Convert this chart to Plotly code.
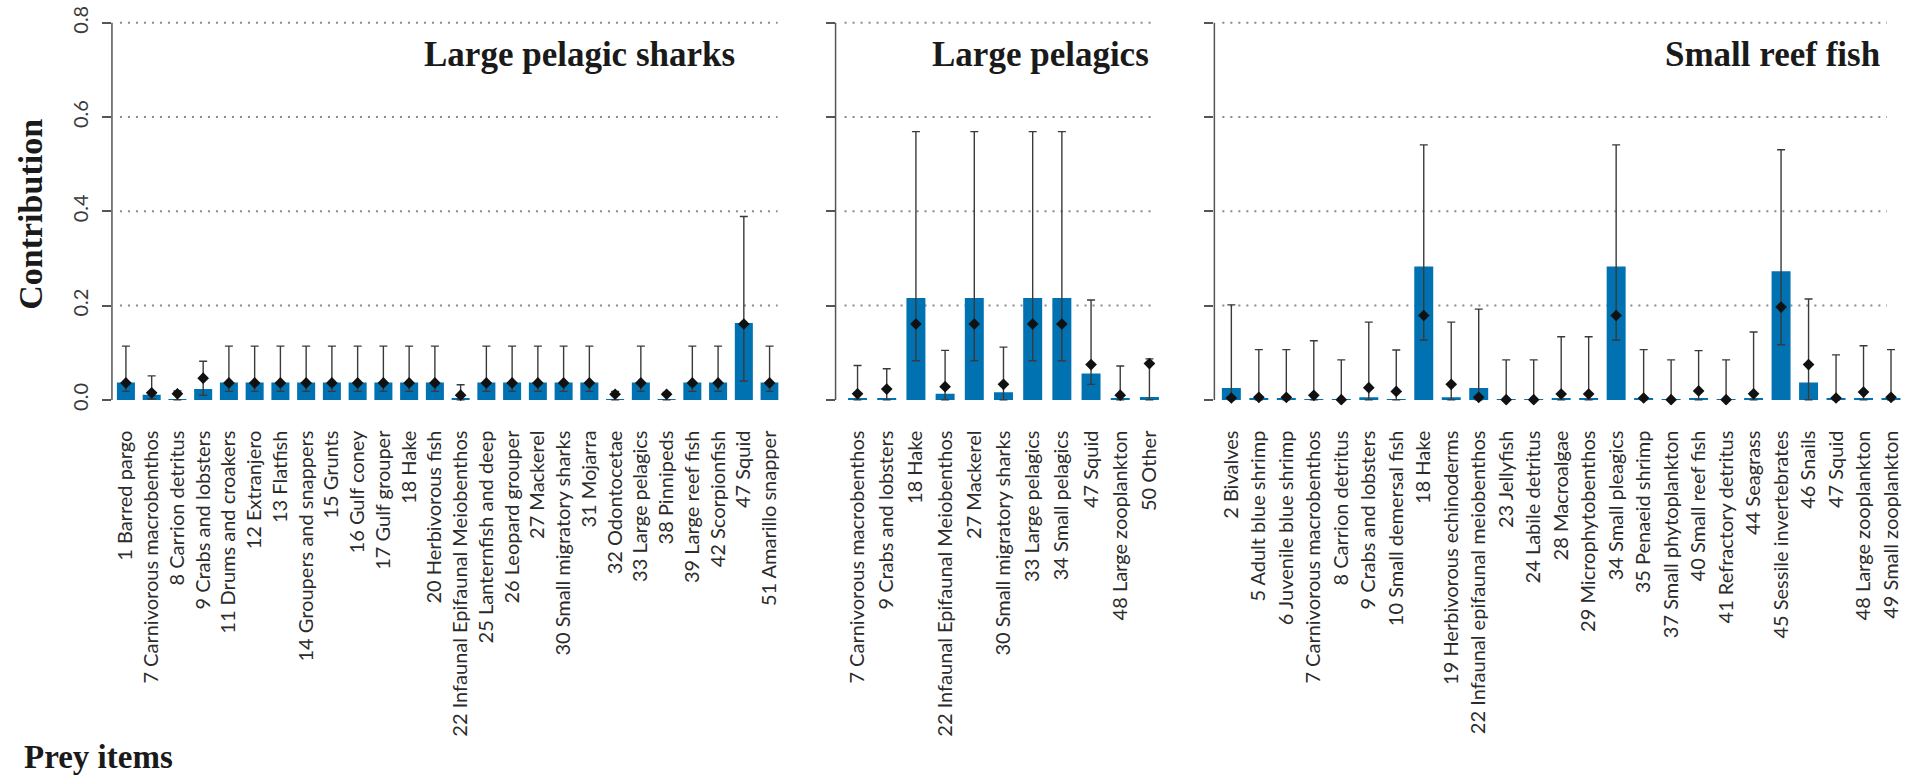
import plotly.graph_objects as go

# ---- Large pelagic sharks: diet contributions ----
sharks_labels = [
    "1 Barred pargo", "7 Carnivorous macrobenthos", "8 Carrion detritus",
    "9 Crabs and lobsters", "11 Drums and croakers", "12 Extranjero",
    "13 Flatfish", "14 Groupers and snappers", "15 Grunts", "16 Gulf coney",
    "17 Gulf grouper", "18 Hake", "20 Herbivorous fish",
    "22 Infaunal Epifaunal Meiobenthos", "25 Lanternfish and deep",
    "26 Leopard grouper", "27 Mackerel", "30 Small migratory sharks",
    "31 Mojarra", "32 Odontocetae", "33 Large pelagics", "38 Pinnipeds",
    "39 Large reef fish", "42 Scorpionfish", "47 Squid", "51 Amarillo snapper",
]
sharks_bar = [0.037, 0.011, 0.001, 0.023, 0.037, 0.037, 0.037, 0.037, 0.037, 0.037,
              0.037, 0.037, 0.037, 0.004, 0.037, 0.037, 0.037, 0.037, 0.037, 0.001,
              0.037, 0.001, 0.037, 0.037, 0.163, 0.037]
sharks_point = [0.036, 0.015, 0.013, 0.046, 0.036, 0.036, 0.036, 0.036, 0.036, 0.036,
                0.036, 0.036, 0.036, 0.010, 0.036, 0.036, 0.036, 0.036, 0.036, 0.012,
                0.036, 0.012, 0.036, 0.036, 0.161, 0.036]
sharks_low = [0.018, 0.002, 0.0, 0.010, 0.018, 0.018, 0.018, 0.018, 0.018, 0.018,
              0.018, 0.018, 0.018, 0.0, 0.018, 0.018, 0.018, 0.018, 0.018, 0.0,
              0.018, 0.0, 0.018, 0.018, 0.040, 0.018]
sharks_high = [0.114, 0.051, 0.019, 0.082, 0.114, 0.114, 0.114, 0.114, 0.114, 0.114,
               0.114, 0.114, 0.114, 0.032, 0.114, 0.114, 0.114, 0.114, 0.114, 0.018,
               0.114, 0.016, 0.114, 0.114, 0.389, 0.114]

# ---- Large pelagics ----
pelagics_labels = [
    "7 Carnivorous macrobenthos", "9 Crabs and lobsters", "18 Hake",
    "22 Infaunal Epifaunal Meiobenthos", "27 Mackerel", "30 Small migratory sharks",
    "33 Large pelagics", "34 Small pelagics", "47 Squid", "48 Large zooplankton",
    "50 Other",
]
pelagics_bar = [0.003, 0.003, 0.216, 0.013, 0.216, 0.016, 0.216, 0.216, 0.056, 0.003, 0.006]
pelagics_point = [0.013, 0.023, 0.161, 0.028, 0.161, 0.033, 0.161, 0.161, 0.075, 0.010, 0.077]
pelagics_low = [0.0, 0.0, 0.083, 0.0, 0.083, 0.0, 0.083, 0.083, 0.033, 0.0, 0.0]
pelagics_high = [0.073, 0.066, 0.569, 0.105, 0.569, 0.112, 0.569, 0.569, 0.212, 0.072, 0.087]

# ---- Small reef fish ----
reef_labels = [
    "2 Bivalves", "5 Adult blue shrimp", "6 Juvenile blue shrimp",
    "7 Carnivorous macrobenthos", "8 Carrion detritus", "9 Crabs and lobsters",
    "10 Small demersal fish", "18 Hake", "19 Herbivorous echinoderms",
    "22 Infaunal epifaunal meiobenthos", "23 Jellyfish", "24 Labile detritus",
    "28 Macroalgae", "29 Microphytobenthos", "34 Small pleagics",
    "35 Penaeid shrimp", "37 Small phytoplankton", "40 Small reef fish",
    "41 Refractory detritus", "44 Seagrass", "45 Sessile invertebrates",
    "46 Snails", "47 Squid", "48 Large zooplankton", "49 Small zooplankton",
]
reef_bar = [0.025, 0.002, 0.002, 0.001, 0.001, 0.0055, 0.001, 0.283, 0.0055, 0.025,
            0.001, 0.001, 0.002, 0.002, 0.283, 0.002, 0.001, 0.002, 0.001, 0.002,
            0.273, 0.037, 0.002, 0.002, 0.002]
reef_point = [0.004, 0.0055, 0.0055, 0.0097, 0.0005, 0.026, 0.018, 0.179, 0.033, 0.0055,
              0.0005, 0.0005, 0.0125, 0.0125, 0.179, 0.004, 0.0005, 0.019, 0.0005, 0.013,
              0.197, 0.075, 0.004, 0.0166, 0.0055]
reef_low = [0.0, 0.0, 0.0, 0.0, 0.0, 0.0, 0.0, 0.127, 0.0, 0.0,
            0.0, 0.0, 0.0, 0.0, 0.127, 0.0, 0.0, 0.0, 0.0, 0.0,
            0.117, 0.0, 0.0, 0.0, 0.0]
reef_high = [0.2015, 0.1067, 0.1067, 0.1254, 0.085, 0.165, 0.106, 0.541, 0.165, 0.1926,
             0.085, 0.085, 0.134, 0.134, 0.541, 0.1067, 0.085, 0.1046, 0.085, 0.144,
             0.5306, 0.214, 0.0956, 0.115, 0.1067]

panel_titles = ["Large pelagic sharks", "Large pelagics", "Small reef fish"]
y_ticks = [0.0, 0.2, 0.4, 0.6, 0.8]

W, H = 1919, 783
BAR_COLOR = "#0072B2"
INK = "#2b2b2b"
SANS = "Lato, 'Open Sans', sans-serif"
SERIF = "'Liberation Serif', 'DejaVu Serif', serif"


def fx(p):
    return p / W


def fy(p):
    return 1 - p / H


# shared value axis: 0 at y=397 px, 0.8 at y=12 px
Y_RANGE = [-0.012, 0.812]
Y_DOMAIN = [fy(402.8), fy(6.2)]

panels = [
    # labels, bar, point, low, high, x-domain px, category range, bar width,
    # grid start/end px, title right edge px
    (sharks_labels, sharks_bar, sharks_point, sharks_low, sharks_high,
     (112, 779), (-0.543, 25.35), 0.70, (120, 778), 737),
    (pelagics_labels, pelagics_bar, pelagics_point, pelagics_low, pelagics_high,
     (836, 1162), (-0.753, 10.41), 0.65, (845, 1152), 1152),
    (reef_labels, reef_bar, reef_point, reef_low, reef_high,
     (1215, 1903), (-0.618, 24.4), 0.69, (1223, 1888), 1883),
]

fig = go.Figure()
shapes = []
annotations = []
layout = {}

for i, (labels, bar, point, low, high, xdom, xrng, bw, grid, tright) in enumerate(panels, start=1):
    xa = "x" if i == 1 else f"x{i}"
    ya = "y" if i == 1 else f"y{i}"

    fig.add_trace(go.Bar(
        x=labels, y=bar, width=bw, marker=dict(color=BAR_COLOR, line=dict(width=0)),
        xaxis=xa, yaxis=ya, showlegend=False, hoverinfo="x+y",
    ))
    fig.add_trace(go.Scatter(
        x=labels, y=point, mode="markers", xaxis=xa, yaxis=ya, showlegend=False,
        marker=dict(symbol="diamond", size=9, color="#111111"),
        error_y=dict(
            type="data", symmetric=False,
            array=[h - p for h, p in zip(high, point)],
            arrayminus=[p - l for p, l in zip(point, low)],
            color="#3a3a3a", thickness=1.4, width=4,
        ),
    ))

    xkey = "xaxis" if i == 1 else f"xaxis{i}"
    ykey = "yaxis" if i == 1 else f"yaxis{i}"
    layout[xkey] = dict(
        domain=[fx(xdom[0]), fx(xdom[1])], anchor=ya, type="category",
        range=list(xrng), showgrid=False, zeroline=False, showline=False,
        ticks="outside", ticklen=16, tickcolor="rgba(0,0,0,0)",
        tickangle=-90, tickfont=dict(family=SANS, size=20, color=INK),
        fixedrange=True,
    )
    layout[ykey] = dict(
        domain=Y_DOMAIN, anchor=xa, range=Y_RANGE, tickvals=y_ticks,
        ticktext=[f"{v:.1f}" for v in y_ticks],
        showticklabels=(i == 1), ticks="outside", ticklen=9, tickwidth=1.5,
        tickcolor="#555555", showgrid=False, zeroline=False, showline=False,
        tickangle=-90, tickfont=dict(family=SANS, size=20, color="#3a3a3a"),
        ticklabeloverflow="allow", ticklabelstandoff=6,
        fixedrange=True,
    )

    # axis spine spanning the tick range only
    shapes.append(dict(type="line", xref=f"{xa} domain", yref=ya, x0=0, x1=0,
                       y0=0, y1=0.8, line=dict(color="#555555", width=1.5)))
    # dotted horizontal reference lines
    for v in y_ticks[1:]:
        shapes.append(dict(type="line", xref="paper", yref=ya, x0=fx(grid[0]), x1=fx(grid[1]),
                           y0=v, y1=v, layer="below",
                           line=dict(color="#8a8a8a", width=2, dash="2px,6px")))

    annotations.append(dict(
        text=f"<b>{panel_titles[i - 1]}</b>", xref="paper", yref="paper",
        x=fx(tright), y=fy(22), xanchor="right", yanchor="top", showarrow=False,
        font=dict(family=SERIF, size=35, color="#1a1a1a"),
    ))

annotations.append(dict(
    text="<b>Contribution</b>", xref="paper", yref="paper", x=fx(31), y=fy(207),
    xanchor="center", yanchor="middle", textangle=-90, showarrow=False,
    font=dict(family=SERIF, size=34, color="#1a1a1a"),
))
annotations.append(dict(
    text="<b>Prey items</b>", xref="paper", yref="paper", x=fx(22), y=fy(741),
    xanchor="left", yanchor="top", showarrow=False,
    font=dict(family=SERIF, size=33, color="#1a1a1a"),
))

fig.update_layout(
    width=W, height=H, margin=dict(l=0, r=0, t=0, b=0),
    paper_bgcolor="white", plot_bgcolor="white",
    shapes=shapes, annotations=annotations, barmode="overlay",
    **layout,
)

fig.write_html("out.html", config={"displayModeBar": False})
